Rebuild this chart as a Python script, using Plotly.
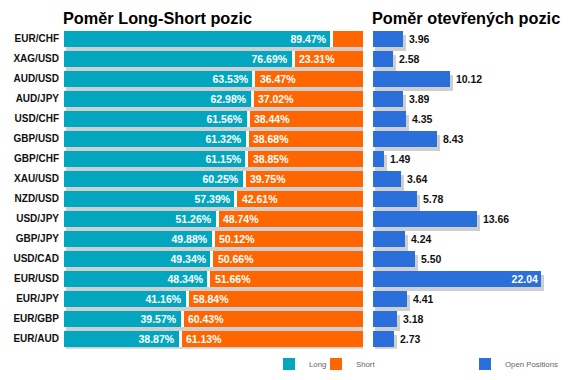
import plotly.graph_objects as go

W, H = 571, 380

pairs = ["EUR/CHF", "XAG/USD", "AUD/USD", "AUD/JPY", "USD/CHF", "GBP/USD", "GBP/CHF",
         "XAU/USD", "NZD/USD", "USD/JPY", "GBP/JPY", "USD/CAD", "EUR/USD", "EUR/JPY",
         "EUR/GBP", "EUR/AUD"]
long_pct = [89.47, 76.69, 63.53, 62.98, 61.56, 61.32, 61.15, 60.25, 57.39, 51.26,
            49.88, 49.34, 48.34, 41.16, 39.57, 38.87]
short_pct = [10.53, 23.31, 36.47, 37.02, 38.44, 38.68, 38.85, 39.75, 42.61, 48.74,
             50.12, 50.66, 51.66, 58.84, 60.43, 61.13]
open_pos = [3.96, 2.58, 10.12, 3.89, 4.35, 8.43, 1.49, 3.64, 5.78, 13.66,
            4.24, 5.50, 22.04, 4.41, 3.18, 2.73]

TEAL = "#02A7BF"
ORANGE = "#FF6600"
BLUE = "#2A6FDA"
SHADOW = "#CFCFCF"
FONT = "Liberation Sans, Arial, sans-serif"
NB = "\u00a0"

ypos = list(range(len(pairs)))
BW = 0.78  # bar thickness (category units)

# pixel geometry
L0, L1 = 64, 363
R0 = 373
r_scale = 168 / 22.04           # px per unit in right panel
r_max = (W - R0) / r_scale
l_scale = (L1 - L0) / 100.0     # px per % in left panel

top_px, bot_px = 28.8, 348.8
y_dom = [1 - bot_px / H, 1 - top_px / H]
row_px = (bot_px - top_px) / len(pairs)
sh_dy = 3.8 / row_px            # shadow vertical offset in category units

TXT = dict(family=FONT, size=10.5, weight="bold")

fig = go.Figure()

# ---- left panel shadows
fig.add_trace(go.Bar(
    y=ypos, x=[100 + 1.8 / l_scale] * len(pairs), base=2 / l_scale, orientation="h",
    width=BW, offset=-BW / 2 + sh_dy, marker=dict(color=SHADOW, line=dict(width=0)),
    xaxis="x", yaxis="y", showlegend=False, hoverinfo="skip"))
# long
fig.add_trace(go.Bar(
    y=ypos, x=long_pct, orientation="h", name="Long", width=BW,
    marker=dict(color=TEAL, line=dict(width=0)),
    text=[f"{v:.2f}%{NB}" for v in long_pct], textposition="inside",
    insidetextanchor="end", textangle=0, constraintext="none",
    insidetextfont=dict(color="white", **TXT),
    xaxis="x", yaxis="y", legend="legend"))
# short
fig.add_trace(go.Bar(
    y=ypos, x=short_pct, base=long_pct, orientation="h", name="Short", width=BW,
    marker=dict(color=ORANGE, line=dict(width=0)),
    text=[f"{NB}{v:.2f}%" if v >= 15 else "" for v in short_pct], textposition="inside",
    insidetextanchor="start", textangle=0, constraintext="none",
    insidetextfont=dict(color="white", **TXT),
    xaxis="x", yaxis="y", legend="legend3"))
# white separator between long and short
fig.add_trace(go.Bar(
    y=ypos, x=[3 / l_scale] * len(pairs), base=[v - 1.5 / l_scale for v in long_pct],
    orientation="h", width=BW, marker=dict(color="white", line=dict(width=0)),
    xaxis="x", yaxis="y", showlegend=False, hoverinfo="skip"))

# ---- right panel shadows
fig.add_trace(go.Bar(
    y=ypos, x=[v + 1 / r_scale for v in open_pos], base=2 / r_scale, orientation="h",
    width=BW, offset=-BW / 2 + sh_dy, marker=dict(color=SHADOW, line=dict(width=0)),
    xaxis="x2", yaxis="y2", showlegend=False, hoverinfo="skip"))
fig.add_trace(go.Bar(
    y=ypos, x=open_pos, orientation="h", name="Open Positions", width=BW,
    marker=dict(color=BLUE, line=dict(width=0)),
    text=[f"{v:.2f}" if v == max(open_pos) else f"{NB}{v:.2f}" for v in open_pos],
    textposition=["inside" if v == max(open_pos) else "outside" for v in open_pos],
    insidetextanchor="end", textangle=0, cliponaxis=False, constraintext="none",
    insidetextfont=dict(color="white", **TXT),
    outsidetextfont=dict(color="#111111", **TXT),
    xaxis="x2", yaxis="y2", legend="legend2"))

LEG = dict(orientation="h", xanchor="left", y=1 - 364 / H, yanchor="middle",
           font=dict(family=FONT, size=7.8, color="#666666"), itemwidth=30,
           bgcolor="rgba(0,0,0,0)")

fig.update_layout(
    width=W, height=H, autosize=False,
    margin=dict(l=0, r=0, t=0, b=0, autoexpand=False),
    paper_bgcolor="white", plot_bgcolor="white",
    barmode="overlay", bargap=0,
    font=dict(family=FONT, color="#111111"),
    xaxis=dict(domain=[L0 / W, L1 / W], range=[0, 100], visible=False, automargin=False),
    yaxis=dict(domain=y_dom, range=[len(pairs) - 0.5, -0.5], tickvals=ypos, ticktext=pairs,
               showgrid=False, zeroline=False, showline=False, ticks="",
               ticklabelstandoff=4, automargin=False,
               tickfont=dict(family=FONT, size=10, weight="bold", color="#111111"),
               anchor="x"),
    xaxis2=dict(domain=[R0 / W, 1], range=[0, r_max], visible=False, anchor="y2",
                automargin=False),
    yaxis2=dict(domain=y_dom, range=[len(pairs) - 0.5, -0.5], visible=False, anchor="x2",
                automargin=False),
    legend=dict(x=269 / W, **LEG),
    legend3=dict(x=316 / W, **LEG),
    legend2=dict(x=465 / W, **LEG),
    annotations=[
        dict(text="<b>Poměr Long-Short pozic</b>", x=61 / W, y=1 - 18 / H, xref="paper",
             yref="paper", xanchor="left", yanchor="middle", showarrow=False,
             font=dict(family=FONT, size=16.3, color="#000000")),
        dict(text="<b>Poměr otevřených pozic</b>", x=370 / W, y=1 - 18 / H, xref="paper",
             yref="paper", xanchor="left", yanchor="middle", showarrow=False,
             font=dict(family=FONT, size=16.3, color="#000000")),
    ],
)

fig.write_html("out.html", config={"displayModeBar": False, "responsive": False},
               post_script="document.body.style.margin='0';")
